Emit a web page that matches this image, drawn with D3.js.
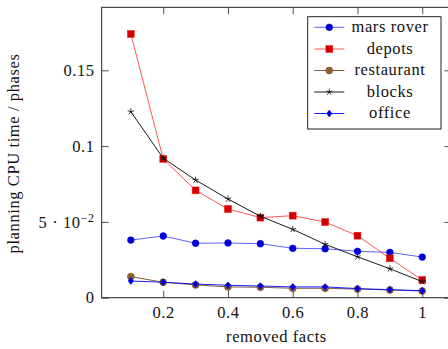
<!DOCTYPE html>
<html>
<head>
<meta charset="utf-8">
<script src="https://cdn.jsdelivr.net/npm/d3@7"></script>
<style>
  body { margin: 0; background: #fff; }
</style>
</head>
<body>
<svg id="chart" width="448" height="349"></svg>
<script>
// removed facts (x)
const facts = [0.1, 0.2, 0.3, 0.4, 0.5, 0.6, 0.7, 0.8, 0.9, 1.0];

// planning CPU time / phases, one array per domain
const marsRover  = [0.0380, 0.0407, 0.0359, 0.0361, 0.0356, 0.0326, 0.0323, 0.0306, 0.0299, 0.0268];
const depots     = [0.1740, 0.0915, 0.0708, 0.0585, 0.0528, 0.0541, 0.0499, 0.0409, 0.0260, 0.0117];
const restaurant = [0.0139, 0.0102, 0.0084, 0.0071, 0.0069, 0.0062, 0.0062, 0.0057, 0.0051, 0.0044];
const blocks     = [0.1227, 0.0920, 0.0776, 0.0651, 0.0537, 0.0451, 0.0352, 0.0270, 0.0191, 0.0106];
const office     = [0.0110, 0.0102, 0.0090, 0.0082, 0.0077, 0.0071, 0.0071, 0.0060, 0.0053, 0.0046];

const xTicks = [0.2, 0.4, 0.6, 0.8, 1];
const xTickLabels = ['0.2', '0.4', '0.6', '0.8', '1'];
const yTicks = [0, 0.05, 0.1, 0.15];
const yTickLabels = ['0', '5e-2', '0.1', '0.15'];

const series = [
  { name: 'mars rover', values: marsRover,  line: 'rgba(0,0,255,0.7)', fill: '#0000cc', mark: 'circle' },
  { name: 'depots',     values: depots,     line: 'rgba(255,0,0,0.75)', fill: '#cc0000', mark: 'square' },
  { name: 'restaurant', values: restaurant, line: '#734d26', fill: '#996633', mark: 'otimes' },
  { name: 'blocks',     values: blocks,     line: '#000', fill: 'none', mark: 'star' },
  { name: 'office',     values: office,     line: '#0000ff', fill: '#0000cc', mark: 'diamond' }
];

// plot area
const pLeft = 101.7, pRight = 451.4, pTop = 7.3, pBottom = 297.7;
const tickLen = 7;
const fontSize = 16.5;
const fontFamily = '"Liberation Serif", "DejaVu Serif", serif';

const svg = d3.select('#chart');

const x = d3.scaleLinear().domain([0.01, 1.09]).range([pLeft, pRight]);
const y = d3.scaleLinear().domain([0, 0.19155]).range([pBottom, pTop]);

const axisColor = '#222';

// ticks - inward on all four sides
const gx = svg.append('g').attr('transform', 'translate(0,' + pBottom + ')')
  .call(d3.axisBottom(x).tickValues(xTicks).tickSizeInner(-tickLen).tickSizeOuter(0).tickPadding(9)
    .tickFormat((d, i) => xTickLabels[i]));
gx.select('.domain').remove();
gx.selectAll('line').attr('stroke', axisColor).attr('stroke-width', 0.8);

const gxTop = svg.append('g').attr('transform', 'translate(0,' + pTop + ')')
  .call(d3.axisTop(x).tickValues(xTicks).tickSizeInner(-tickLen).tickSizeOuter(0).tickFormat(''));
gxTop.select('.domain').remove();
gxTop.selectAll('line').attr('stroke', axisColor).attr('stroke-width', 0.8);

const gy = svg.append('g').attr('transform', 'translate(' + pLeft + ',0)')
  .call(d3.axisLeft(y).tickValues(yTicks).tickSizeInner(-tickLen).tickSizeOuter(0).tickFormat(''));
gy.select('.domain').remove();
gy.selectAll('line').attr('stroke', axisColor).attr('stroke-width', 0.8);

const gyRight = svg.append('g').attr('transform', 'translate(' + pRight + ',0)')
  .call(d3.axisRight(y).tickValues(yTicks).tickSizeInner(-tickLen).tickSizeOuter(0).tickFormat(''));
gyRight.select('.domain').remove();
gyRight.selectAll('line').attr('stroke', axisColor).attr('stroke-width', 0.8);

// y tick labels (one has a superscript)
const yLab = svg.append('g').selectAll('text').data(yTicks).enter().append('text')
  .attr('x', pLeft - 7)
  .attr('y', d => y(d))
  .attr('dy', '0.34em')
  .attr('text-anchor', 'end');
yLab.each(function (d, i) {
  const t = d3.select(this);
  if (yTickLabels[i] === '5e-2') {
    t.append('tspan').text('5 \u00b7 10');
    t.append('tspan').attr('dy', '-0.45em').attr('font-size', 12).text('\u22122');
  } else {
    t.text(yTickLabels[i]);
  }
});

// frame
svg.append('rect')
  .attr('x', pLeft).attr('y', pTop)
  .attr('width', pRight - pLeft).attr('height', pBottom - pTop)
  .attr('fill', 'none').attr('stroke', axisColor).attr('stroke-width', 1);

// axis titles
svg.append('text')
  .attr('x', 276.5).attr('y', 342)
  .attr('text-anchor', 'middle')
  .text('removed facts');
svg.append('text')
  .attr('transform', 'translate(19,153.5) rotate(-90)')
  .attr('text-anchor', 'middle')
  .text('planning CPU time / phases');

// markers
function drawMark(g, s, cx, cy) {
  const r = 3.4;
  if (s.mark === 'circle') {
    g.append('circle').attr('cx', cx).attr('cy', cy).attr('r', r)
      .attr('fill', s.fill).attr('stroke', s.line).attr('stroke-width', 0.7);
  } else if (s.mark === 'square') {
    g.append('rect').attr('x', cx - r).attr('y', cy - r).attr('width', 2 * r).attr('height', 2 * r)
      .attr('fill', s.fill).attr('stroke', s.line).attr('stroke-width', 0.7);
  } else if (s.mark === 'otimes') {
    g.append('circle').attr('cx', cx).attr('cy', cy).attr('r', r)
      .attr('fill', s.fill).attr('stroke', s.line).attr('stroke-width', 0.7);
    const k = r * 0.7;
    g.append('path')
      .attr('d', `M${cx - k},${cy - k}L${cx + k},${cy + k}M${cx - k},${cy + k}L${cx + k},${cy - k}`)
      .attr('stroke', s.line).attr('stroke-width', 0.6);
  } else if (s.mark === 'star') {
    let d = '';
    for (let i = 0; i < 5; i++) {
      const a = -Math.PI / 2 + i * 2 * Math.PI / 5;
      d += `M${cx},${cy}L${cx + r * Math.cos(a)},${cy + r * Math.sin(a)}`;
    }
    g.append('path').attr('d', d).attr('stroke', s.line).attr('stroke-width', 0.8).attr('fill', 'none');
  } else if (s.mark === 'diamond') {
    const w = r * 0.75;
    g.append('path')
      .attr('d', `M${cx},${cy - r}L${cx + w},${cy}L${cx},${cy + r}L${cx - w},${cy}Z`)
      .attr('fill', s.fill).attr('stroke', s.line).attr('stroke-width', 0.7);
  }
}

const clipId = 'plotclip';
svg.append('clipPath').attr('id', clipId).append('rect')
  .attr('x', pLeft - 6).attr('y', pTop - 6).attr('width', pRight - pLeft + 12).attr('height', pBottom - pTop + 12);

const line = d3.line().x(d => x(d[0])).y(d => y(d[1]));
const plot = svg.append('g').attr('clip-path', 'url(#' + clipId + ')');

series.forEach(s => {
  const pts = facts.map((f, i) => [f, s.values[i]]);
  const g = plot.append('g');
  g.append('path').datum(pts).attr('d', line)
    .attr('fill', 'none').attr('stroke', s.line).attr('stroke-width', 0.9);
  pts.forEach(p => drawMark(g, s, x(p[0]), y(p[1])));
});

// legend
const lgX = 307.7, lgY = 16.7, lgW = 133.3, lgH = 112.3;
const rowY = [27.3, 49, 70.5, 92, 113.5];
const legend = svg.append('g');
legend.append('rect').attr('x', lgX).attr('y', lgY).attr('width', lgW).attr('height', lgH)
  .attr('fill', '#fff').attr('stroke', axisColor).attr('stroke-width', 1);
series.forEach((s, i) => {
  const ry = rowY[i];
  legend.append('line').attr('x1', 314.3).attr('x2', 344.3).attr('y1', ry).attr('y2', ry)
    .attr('stroke', s.line).attr('stroke-width', 0.9);
  drawMark(legend, s, 329.3, ry);
  legend.append('text').attr('x', 390).attr('y', ry).attr('dy', '0.3em')
    .attr('text-anchor', 'middle').text(s.name);
});

// one font for every label
svg.selectAll('text')
  .attr('font-family', fontFamily)
  .attr('fill', '#111')
  .attr('letter-spacing', 0.6)
  .filter(function () { return !this.closest || true; })
  .attr('font-size', fontSize);
</script>
</body>
</html>
